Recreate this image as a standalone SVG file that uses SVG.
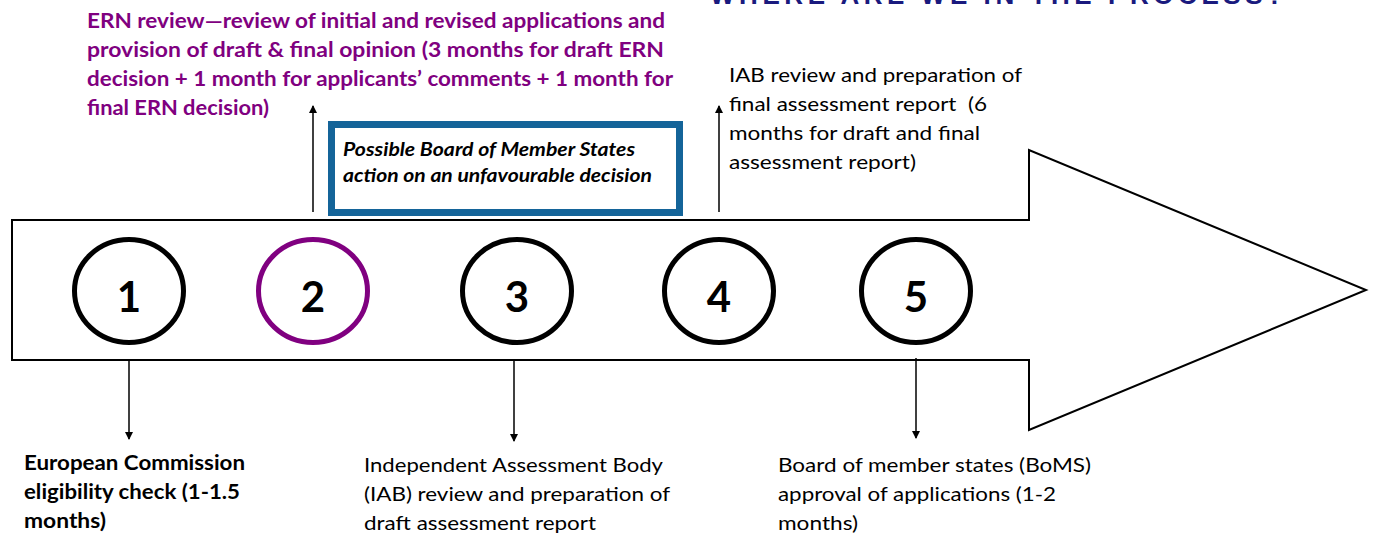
<svg xmlns="http://www.w3.org/2000/svg" width="1373" height="534" viewBox="0 0 1373 534">
<defs>
<style>
.lbl{font-family:Lato,"Liberation Sans",sans-serif;font-size:20px;fill:#000;white-space:pre}
.b{font-weight:bold}
.pur{fill:#800080;font-weight:bold}
.it{font-family:Lato,"Liberation Sans",sans-serif;font-size:18px;font-style:italic;font-weight:bold;fill:#000}
.num{font-family:Lato,"Liberation Sans",sans-serif;font-size:42px;font-weight:bold;fill:#000;text-anchor:middle}
.ring{fill:none;stroke:#000;stroke-width:5}
.conn{stroke:#000;stroke-width:1.5;fill:none;marker-end:url(#ah)}
.title{font-family:"Liberation Sans",sans-serif;font-size:26px;font-weight:bold;fill:#1a1a7e}
</style>
<marker id="ah" markerUnits="userSpaceOnUse" markerWidth="8" markerHeight="9" refX="7" refY="4" orient="auto">
<path d="M0,0 L8,4 L0,8 Z" fill="#000"/>
</marker>
</defs>
<rect width="1373" height="534" fill="#fff"/>
<text class="title" x="710" y="4" textLength="573" lengthAdjust="spacing">WHERE ARE WE IN THE PROCESS?</text>

<g id="big-arrow">
<polygon points="12,220 1029,220 1029,150 1366,290 1029,430 1029,360 12,360" fill="#fff" stroke="#000" stroke-width="2"/>
</g>

<g id="step1"><ellipse class="ring" cx="129" cy="291" rx="54.5" ry="51.5"/><text class="num" x="129" y="312">1</text></g>
<g id="step2"><ellipse class="ring" cx="313" cy="291" rx="54.5" ry="51.5" stroke="#800080" style="stroke:#800080"/><text class="num" x="313" y="312">2</text></g>
<g id="step3"><ellipse class="ring" cx="517" cy="291" rx="54.5" ry="51.5"/><text class="num" x="517" y="312">3</text></g>
<g id="step4"><ellipse class="ring" cx="719" cy="291" rx="54.5" ry="51.5"/><text class="num" x="719" y="312">4</text></g>
<g id="step5"><ellipse class="ring" cx="916" cy="291" rx="54.5" ry="51.5"/><text class="num" x="916" y="312">5</text></g>

<g id="connectors">
<line class="conn" x1="129" y1="361" x2="129" y2="439"/>
<line class="conn" x1="514" y1="359" x2="514" y2="441"/>
<line class="conn" x1="916" y1="358" x2="916" y2="438"/>
<line class="conn" x1="313" y1="212" x2="313" y2="106"/>
<line class="conn" x1="719" y1="212" x2="719" y2="106"/>
</g>

<g id="ern-label">
<text class="lbl pur" x="87" y="28" textLength="578" lengthAdjust="spacingAndGlyphs">ERN review—review of initial and revised applications and</text>
<text class="lbl pur" x="87" y="57" textLength="577" lengthAdjust="spacingAndGlyphs">provision of draft &amp; final opinion (3 months for draft ERN</text>
<text class="lbl pur" x="87" y="86" textLength="586" lengthAdjust="spacingAndGlyphs">decision + 1 month for applicants’ comments + 1 month for</text>
<text class="lbl pur" x="87" y="115" textLength="182" lengthAdjust="spacingAndGlyphs">final ERN decision)</text>
</g>

<g id="boms-action">
<rect x="331.5" y="124.5" width="348" height="88" fill="#fff" stroke="#146499" stroke-width="7"/>
<text class="it" x="343" y="156" textLength="292" lengthAdjust="spacingAndGlyphs">Possible Board of Member States</text>
<text class="it" x="343" y="182" textLength="309" lengthAdjust="spacingAndGlyphs">action on an unfavourable decision</text>
</g>

<g id="iab-final-label">
<text class="lbl" x="729" y="82" textLength="293" lengthAdjust="spacingAndGlyphs">IAB review and preparation of</text>
<text class="lbl" x="729" y="111" textLength="258" lengthAdjust="spacingAndGlyphs">final assessment report  (6</text>
<text class="lbl" x="729" y="140" textLength="251" lengthAdjust="spacingAndGlyphs">months for draft and final</text>
<text class="lbl" x="729" y="169" textLength="187" lengthAdjust="spacingAndGlyphs">assessment report)</text>
</g>

<g id="ec-label">
<text class="lbl b" x="24" y="470" textLength="221" lengthAdjust="spacingAndGlyphs">European Commission</text>
<text class="lbl b" x="24" y="499" textLength="216" lengthAdjust="spacingAndGlyphs">eligibility check (1-1.5</text>
<text class="lbl b" x="24" y="528" textLength="82" lengthAdjust="spacingAndGlyphs">months)</text>
</g>

<g id="iab-draft-label">
<text class="lbl" x="364" y="472" textLength="299" lengthAdjust="spacingAndGlyphs">Independent Assessment Body</text>
<text class="lbl" x="364" y="501" textLength="306" lengthAdjust="spacingAndGlyphs">(IAB) review and preparation of</text>
<text class="lbl" x="364" y="530" textLength="232" lengthAdjust="spacingAndGlyphs">draft assessment report</text>
</g>

<g id="boms-label">
<text class="lbl" x="778" y="472" textLength="313" lengthAdjust="spacingAndGlyphs">Board of member states (BoMS)</text>
<text class="lbl" x="778" y="501" textLength="278" lengthAdjust="spacingAndGlyphs">approval of applications (1-2</text>
<text class="lbl" x="778" y="530" textLength="80" lengthAdjust="spacingAndGlyphs">months)</text>
</g>
</svg>
